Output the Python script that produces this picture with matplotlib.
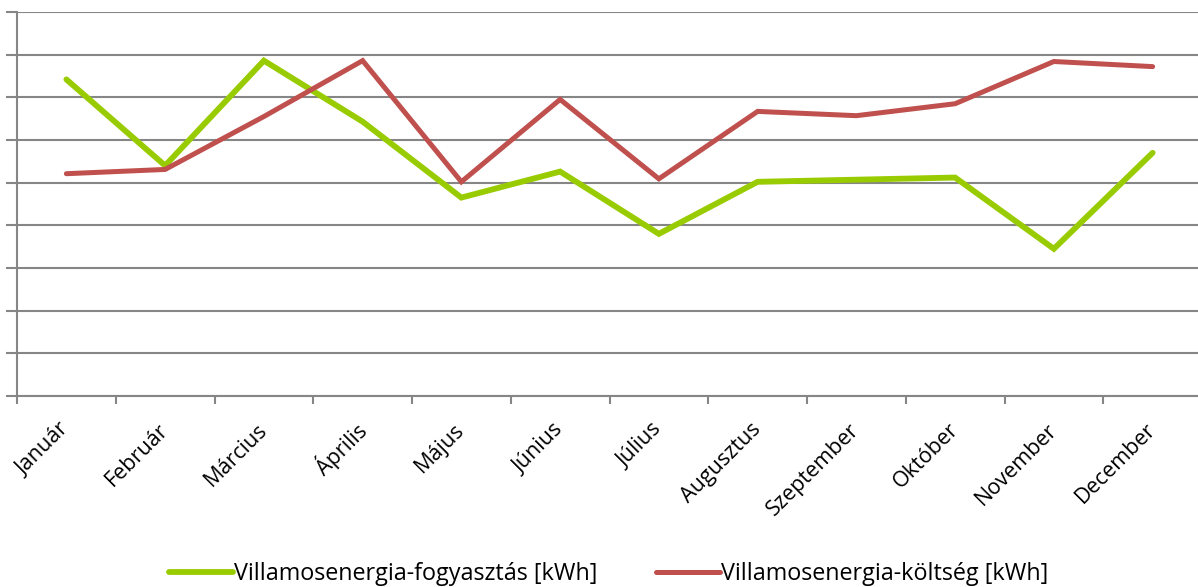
import matplotlib.pyplot as plt
from matplotlib.ticker import MultipleLocator

honapok = ['Január', 'Február', 'Március', 'Április', 'Május', 'Június',
           'Július', 'Augusztus', 'Szeptember', 'Október', 'November', 'December']
fogyasztas = [7.42, 5.40, 7.86, 6.43, 4.65, 5.26, 3.80, 5.02, 5.07, 5.12, 3.45, 5.70]
koltseg = [5.21, 5.31, 6.55, 7.86, 5.02, 6.95, 5.09, 6.67, 6.57, 6.85, 7.84, 7.72]

GREEN = '#99CC00'
RED = '#C0504D'
GRID = '#868686'

plt.rcParams['font.family'] = ['Open Sans', 'DejaVu Sans']

fig = plt.figure(figsize=(11.98, 5.87), dpi=100)
# plot area: x 17..1202 px, y 12..396 px
ax = fig.add_axes([17 / 1198, 1 - 396 / 587, 1185 / 1198, 384 / 587])

x = list(range(len(honapok)))
ax.plot(x, fogyasztas, color=GREEN, lw=4.2, solid_capstyle='round', solid_joinstyle='miter',
        label='Villamosenergia-fogyasztás [kWh]')
ax.plot(x, koltseg, color=RED, lw=3.6, solid_capstyle='round', solid_joinstyle='miter',
        label='Villamosenergia-költség [kWh]')

ax.set_xlim(-0.5, len(honapok) - 0.5)
ax.set_ylim(0, 9)
ax.yaxis.set_major_locator(MultipleLocator(1))
ax.yaxis.grid(True, color=GRID, lw=1.5)
ax.set_axisbelow(True)
ax.set_yticklabels([])
ax.tick_params(axis='y', length=8, width=1.5, color=GRID, direction='out')

ax.set_xticks([i - 0.5 for i in range(len(honapok) + 1)])
ax.set_xticklabels([])
ax.set_xticks(x, minor=True)
ax.set_xticklabels(honapok, minor=True, rotation=45, ha='right', va='center',
                   rotation_mode='anchor', fontsize=15.5)
ax.tick_params(axis='x', which='major', length=6, width=1.5, color=GRID, direction='out')
ax.tick_params(axis='x', which='minor', length=0, pad=22)

for s in ['top', 'right']:
    ax.spines[s].set_visible(False)
for s in ['left', 'bottom']:
    ax.spines[s].set_color(GRID)
    ax.spines[s].set_linewidth(1.5)

leg = fig.legend(loc='center', bbox_to_anchor=(0.508, 1 - 574 / 587), ncol=2, frameon=False,
                 fontsize=16.8, handlelength=2.75, handletextpad=0.05, columnspacing=2.5)

fig.savefig('out.png', dpi=100)
